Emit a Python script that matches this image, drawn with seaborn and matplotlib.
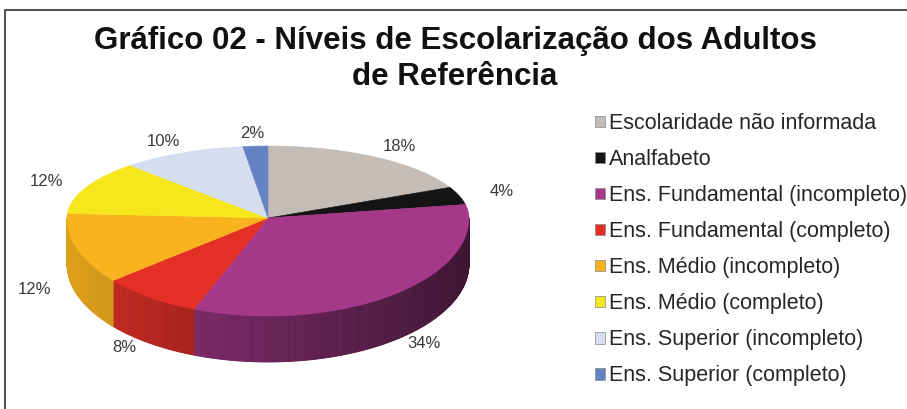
import numpy as np
import matplotlib
matplotlib.use('Agg')
import matplotlib.pyplot as plt
import seaborn as sns
from matplotlib.patches import Polygon, Patch
from matplotlib.lines import Line2D
from matplotlib.colors import to_rgb

# ===== dados =====
categorias = ['Escolaridade não informada', 'Analfabeto',
              'Ens. Fundamental (incompleto)', 'Ens. Fundamental (completo)',
              'Ens. Médio (incompleto)', 'Ens. Médio (completo)',
              'Ens. Superior (incompleto)', 'Ens. Superior (completo)']
percentuais = [18, 4, 34, 8, 12, 12, 10, 2]
cores = ['#C3BCB7', '#141414', '#A6388A', '#E42F27',
         '#F8B31E', '#F5E71C', '#D4DEEE', '#6582C2']
rotulos = [f'{p}%' for p in percentuais]
titulo = 'Gráfico 02 - Níveis de Escolarização dos Adultos\nde Referência'

sns.set_theme(style='white')
plt.rcParams['font.family'] = ['Liberation Sans', 'DejaVu Sans']

fig = plt.figure(figsize=(9.07, 4.09), dpi=100)
ax = fig.add_axes([0, 0, 1, 1])
ax.set_xlim(0, 907)
ax.set_ylim(409, 0)
ax.axis('off')

# geometria da "pizza 3D" (em pixels)
cx, cy = 268, 218
rx, ry_up, ry_dn = 201, 72, 98
prof = 46


def borda(theta):
    t = np.radians(theta)
    ry = np.where(np.sin(t) > 0, ry_up, ry_dn)
    return cx + rx * np.cos(t), cy - ry * np.sin(t)


limites = 90 - 3.6 * np.concatenate([[0], np.cumsum(percentuais)])

# ===== lateral (frente) =====
for i, cor in enumerate(cores):
    a0, a1 = limites[i], limites[i + 1]
    th = np.linspace(a1, a0, max(int((a0 - a1) * 2), 2))
    base = np.array(to_rgb(cor))
    for t0, t1 in zip(th[:-1], th[1:]):
        tm = np.radians((t0 + t1) / 2)
        if np.sin(tm) >= 0:
            continue
        f = 0.64 - 0.26 * np.cos(tm)
        c = np.clip(base * f, 0, 1)
        x0, y0 = borda(t0)
        x1, y1 = borda(t1)
        ax.add_patch(Polygon([(x0, y0), (x1, y1), (x1, y1 + prof), (x0, y0 + prof)],
                             closed=True, facecolor=c, edgecolor=c, lw=0.6))

# ===== topo =====
for i, cor in enumerate(cores):
    a0, a1 = limites[i], limites[i + 1]
    th = np.linspace(a0, a1, 80)
    xs, ys = borda(th)
    pts = [(cx, cy)] + list(zip(xs, ys))
    ax.add_patch(Polygon(pts, closed=True, facecolor=cor, edgecolor=cor, lw=0.4))

# ===== rótulos percentuais =====
for i, txt in enumerate(rotulos):
    m = np.radians((limites[i] + limites[i + 1]) / 2)
    s = np.sin(m)
    ry = ry_up if s > 0 else ry_dn
    x = cx + 1.22 * rx * np.cos(m)
    y = cy - 1.18 * ry * s + (36 if s < 0 else 0)
    ax.text(x, y, txt, ha='center', va='center', fontsize=12, color='#3a3a3a')

# ===== título =====
l1, l2 = titulo.split('\n')
ax.text(455, 49, l1, ha='center', va='baseline', fontsize=22.5, fontweight='bold', color='#111111')
ax.text(455, 85, l2, ha='center', va='baseline', fontsize=22.5, fontweight='bold', color='#111111')

# ===== legenda =====
handles = [Patch(facecolor=c, edgecolor='#888888', lw=0.5) for c in cores]
ax.legend(handles, categorias, loc='upper left', bbox_to_anchor=(595 / 907, 1 - 113 / 409),
          bbox_transform=fig.transFigure, frameon=False, fontsize=15.5,
          handlelength=0.45, handleheight=0.45, handletextpad=0.2,
          borderpad=0, borderaxespad=0, labelspacing=0.70)

# ===== moldura =====
fig.add_artist(Line2D([5 / 907, 1], [1 - 10 / 409, 1 - 10 / 409], color='#555555', lw=1.5))
fig.add_artist(Line2D([5 / 907, 5 / 907], [0, 1 - 10 / 409], color='#555555', lw=1.5))

plt.savefig('out.png', dpi=100)
